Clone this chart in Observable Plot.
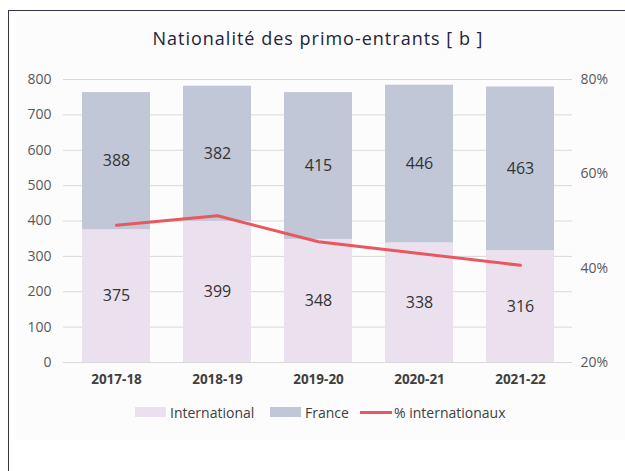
<!DOCTYPE html>
<html>
<head>
<meta charset="utf-8">
<script src="https://cdn.jsdelivr.net/npm/d3@7"></script>
<script src="https://cdn.jsdelivr.net/npm/@observablehq/plot@0.6"></script>
<style>
  html, body { margin: 0; padding: 0; background: #ffffff; }
  body { width: 625px; height: 471px; position: relative; overflow: hidden; font-family: "Open Sans", sans-serif; }
  #frame { position: absolute; left: 8px; top: 10px; width: 700px; height: 500px; border-left: 1.5px solid #34344a; border-top: 1.5px solid #34344a; }
  #bg { position: absolute; left: 14px; top: 14px; width: 620px; height: 426px; background: #fcfcfc; }
  #title { position: absolute; left: 0; width: 636px; top: 26px; text-align: center; font-family: "Open Sans", sans-serif; font-size: 18px; letter-spacing: 1px; color: #23233a; }
  #chart { position: absolute; left: 0; top: 60px; }
  #legend { position: absolute; top: 403px; left: 0; width: 625px; font-size: 14px; color: #404040; }
  .item { position: absolute; display: flex; align-items: center; height: 18px; }
  .sw { display: inline-block; width: 31px; height: 10px; margin-right: 4px; }
  .ln { display: inline-block; width: 32px; height: 3px; margin-right: 2px; }
</style>
</head>
<body>
<div id="bg"></div>
<div id="frame"></div>
<div id="title">Nationalité des primo-entrants [ b ]</div>
<div id="chart"></div>
<div id="legend"></div>
<script>
const years = ["2017-18", "2018-19", "2019-20", "2020-21", "2021-22"];
const international = [375, 399, 348, 338, 316];
const france = [388, 382, 415, 446, 463];
const pctInternational = [49.1, 51.1, 45.6, 43.1, 40.6];
const yTicks = [0, 100, 200, 300, 400, 500, 600, 700, 800];
const pctTicks = [20, 40, 60, 80];
const series = ["International", "France"];
const seriesColors = ["#ebe1ee", "#c1c7d6"];
const lineLabel = "% internationaux";
const lineColor = "#e8585e";

// right axis: 20%..80% maps onto 0..800
const pctToLeft = p => (p - 20) * 800 / 60;
const leftToPct = v => v * 60 / 800 + 20;

const rows = years.flatMap((y, i) => [
  {year: y, serie: "International", value: international[i]},
  {year: y, serie: "France", value: france[i]}
]);
const lineRows = years.map((y, i) => ({year: y, pct: pctInternational[i]}));

const chart = Plot.plot({
  width: 625,
  height: 340,
  marginLeft: 63,
  marginRight: 53,
  marginTop: 19,
  marginBottom: 38,
  style: {background: "transparent", fontFamily: "Open Sans, sans-serif"},
  x: {domain: years, paddingInner: 0.33, paddingOuter: 0.165, label: null},
  y: {domain: [0, 800], label: null},
  color: {domain: series, range: seriesColors},
  marks: [
    Plot.gridY(yTicks, {stroke: "#d9d9d9", strokeOpacity: 1, strokeWidth: 1}),
    Plot.barY(rows, {x: "year", y: "value", fill: "serie"}),
    Plot.text(rows, Plot.stackY({x: "year", y: "value", z: "serie", text: d => String(d.value), fill: "#333333", fontSize: 16})),
    Plot.line(lineRows, {x: "year", y: d => pctToLeft(d.pct), stroke: lineColor, strokeWidth: 3}),
    Plot.axisY(yTicks, {anchor: "left", tickSize: 0, tickPadding: 12, fontSize: 14, color: "#595959", label: null}),
    Plot.axisY(pctTicks.map(pctToLeft), {anchor: "right", tickSize: 0, tickPadding: 8, fontSize: 14, color: "#595959", label: null, tickFormat: v => Math.round(leftToPct(v)) + "%"}),
    Plot.axisX({tickSize: 0, tickPadding: 12, fontSize: 13.5, fontWeight: "bold", color: "#404040", label: null})
  ]
});
document.getElementById("chart").appendChild(chart);

// legend
const legend = document.getElementById("legend");
const items = [
  {label: series[0], color: seriesColors[0], type: "sw", left: 135},
  {label: series[1], color: seriesColors[1], type: "sw", left: 270},
  {label: lineLabel, color: lineColor, type: "ln", left: 360}
];
for (const it of items) {
  const d = document.createElement("div");
  d.className = "item";
  d.style.left = it.left + "px";
  const s = document.createElement("span");
  s.className = it.type;
  s.style.background = it.color;
  const t = document.createElement("span");
  t.textContent = it.label;
  d.appendChild(s);
  d.appendChild(t);
  legend.appendChild(d);
}
</script>
</body>
</html>
